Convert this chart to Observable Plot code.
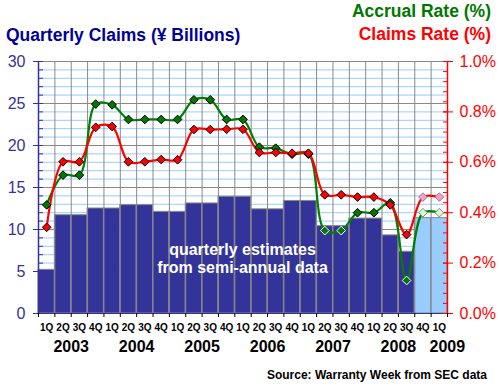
<!DOCTYPE html>
<html><head><meta charset="utf-8">
<script src="https://cdn.jsdelivr.net/npm/d3@7"></script>
<script src="https://cdn.jsdelivr.net/npm/@observablehq/plot@0.6"></script>
<style>
body{margin:0;background:#fff;font-family:"Liberation Sans",Arial,sans-serif}
#wrap{position:relative;width:500px;height:387px;overflow:hidden}
#chart{position:absolute;left:0;top:0}
.t{position:absolute;font-weight:bold;white-space:nowrap;line-height:1}
</style></head><body><div id="wrap">
<div id="chart"></div>
<div class="t" style="left:6px;top:27px;font-size:17.5px;color:#000099">Quarterly Claims (¥ Billions)</div>
<div class="t" style="right:9px;top:2.5px;font-size:17.5px;color:#007700">Accrual Rate (%)</div>
<div class="t" style="right:9px;top:26px;font-size:17.5px;color:#ff0000">Claims Rate (%)</div>
<div class="t" style="left:142.5px;width:200px;text-align:center;top:240.5px;font-size:16px;line-height:18px;color:#fff">quarterly estimates<br>from semi-annual data</div>
<div class="t" style="right:13px;top:369px;font-size:12px;color:#000">Source: Warranty Week from SEC data</div>
</div>
<script>
const quarters = ["1Q","2Q","3Q","4Q","1Q","2Q","3Q","4Q","1Q","2Q","3Q","4Q","1Q","2Q","3Q","4Q","1Q","2Q","3Q","4Q","1Q","2Q","3Q","4Q","1Q"];
const years = ["2003","2004","2005","2006","2007","2008","2009"];
const yearQuarterCount = [4,4,4,4,4,4,1];
// Quarterly claims (¥ billions)
const claims = [5.2,11.7,11.7,12.5,12.5,12.9,12.9,12.1,12.1,13.1,13.1,13.9,13.9,12.4,12.4,13.4,13.4,10.4,10.4,11.3,11.3,9.3,7.35,11.35,11.35];
// true = lighter (estimated) bars/markers
const estimated = [false,false,false,false,false,false,false,false,false,false,false,false,false,false,false,false,false,false,false,false,false,false,false,true,true];
// Accrual rate (%)
const accrualRate = [0.431,0.549,0.549,0.831,0.828,0.770,0.770,0.770,0.770,0.848,0.848,0.770,0.770,0.660,0.656,0.632,0.632,0.329,0.329,0.400,0.400,0.439,0.131,0.400,0.400];
// Claims rate (%)
const claimsRate = [0.342,0.602,0.602,0.739,0.742,0.602,0.602,0.611,0.610,0.730,0.730,0.731,0.731,0.639,0.639,0.636,0.636,0.471,0.471,0.462,0.462,0.431,0.313,0.462,0.462];
const leftTicks = [0,5,10,15,20,25,30];
const rightTicks = ["0.0%","0.2%","0.4%","0.6%","0.8%","1.0%"];

const n = claims.length;
const K = 30; // 1.0% on right axis == 30 on left axis
const rows = d3.range(n).map(i => ({i, q: quarters[i], claims: claims[i], est: estimated[i], accrual: accrualRate[i] * K, rate: claimsRate[i] * K}));
let start = 0;
const yearRows = years.map((y, k) => { const r = {year: y, mid: start + yearQuarterCount[k] / 2, last: k === years.length - 1}; start += yearQuarterCount[k]; return r; });
const pctVal = s => parseFloat(s) * K; // "0.2%" -> 6
const outline = (v, d) => d.est ? "#888888" : (v < d.claims ? "#ffffff" : "#000000");

const chart = Plot.plot({
  width: 500, height: 387,
  marginLeft: 38, marginRight: 53, marginTop: 61, marginBottom: 74,
  style: {fontFamily: "Liberation Sans, Arial, sans-serif", background: "#fff"},
  x: {domain: [0, n], axis: null},
  y: {domain: [0, 30], axis: null},
  color: {type: "identity"},
  marks: [
    Plot.ruleY(d3.range(0, 31), {stroke: "#99ccff"}),
    Plot.ruleY(leftTicks, {stroke: "#888888"}),
    Plot.rectY(rows, {x1: "i", x2: d => d.i + 1, y: "claims", fill: d => d.est ? "#99ccff" : "#333399", stroke: "#888888"}),
    Plot.ruleX(d3.range(0, n + 1), {stroke: "#888888", y1: 0, y2: 30}),
    Plot.ruleX([0], {stroke: "#333399", strokeWidth: 1.5}),
    Plot.ruleX([n], {stroke: "#ff0000", strokeWidth: 1.5}),
    Plot.ruleY([0], {stroke: "#333399"}),
    // left axis
    Plot.axisY(leftTicks, {anchor: "left", tickSize: 10, insetLeft: 5, tickPadding: 8, stroke: "#333399", fill: "#333399", fontSize: 16, label: null}),
    Plot.axisY(d3.range(0, 31), {anchor: "left", tickSize: 5, insetLeft: 5, tickFormat: () => "", stroke: "#333399", label: null}),
    // right axis
    Plot.axisY(rightTicks.map(pctVal), {anchor: "right", tickSize: 10, insetRight: 5, tickPadding: 7, stroke: "#ff0000", fill: "#ff0000", fontSize: 16, tickFormat: d => rightTicks[Math.round(d / 6)], label: null}),
    Plot.axisY(d3.range(26).map(k => k * 1.2), {anchor: "right", tickSize: 5, insetRight: 5, tickFormat: () => "", stroke: "#ff0000", label: null}),
    // x axis
    Plot.axisX(d3.range(0, n + 1), {anchor: "bottom", tickSize: 4, tickFormat: () => "", stroke: "#000", label: null}),
    Plot.axisX(d3.range(n).map(i => i + 0.5), {anchor: "bottom", tickSize: 0, tickPadding: 10, tickFormat: d => quarters[Math.floor(d)], fontSize: 10, fontWeight: "bold", fill: "#000", label: null}),
    Plot.text(yearRows.filter(d => !d.last), {x: "mid", y: 0, text: "year", dy: 33.6, fontSize: 16, fontWeight: "bold", fill: "#000"}),
    Plot.text(yearRows.filter(d => d.last), {x: "mid", y: 0, text: "year", dy: 33.6, dx: 8, fontSize: 16, fontWeight: "bold", fill: "#000"}),
    // lines
    Plot.line(rows, {x: d => d.i + 0.5, y: "accrual", stroke: "#008000", strokeWidth: 2.2, curve: "catmull-rom"}),
    Plot.line(rows, {x: d => d.i + 0.5, y: "rate", stroke: "#ff0000", strokeWidth: 2.2, curve: "catmull-rom"}),
    Plot.dot(rows, {x: d => d.i + 0.5, y: "accrual", symbol: "diamond2", r: 3.9, fill: d => d.est ? "#ccffcc" : "#007700", stroke: d => outline(d.accrual, d), strokeWidth: 1}),
    Plot.dot(rows, {x: d => d.i + 0.5, y: "rate", symbol: "diamond2", r: 3.9, fill: d => d.est ? "#ff99cc" : "#ff0000", stroke: d => outline(d.rate, d), strokeWidth: 1})
  ]
});
document.getElementById("chart").appendChild(chart);
</script>
</body></html>
